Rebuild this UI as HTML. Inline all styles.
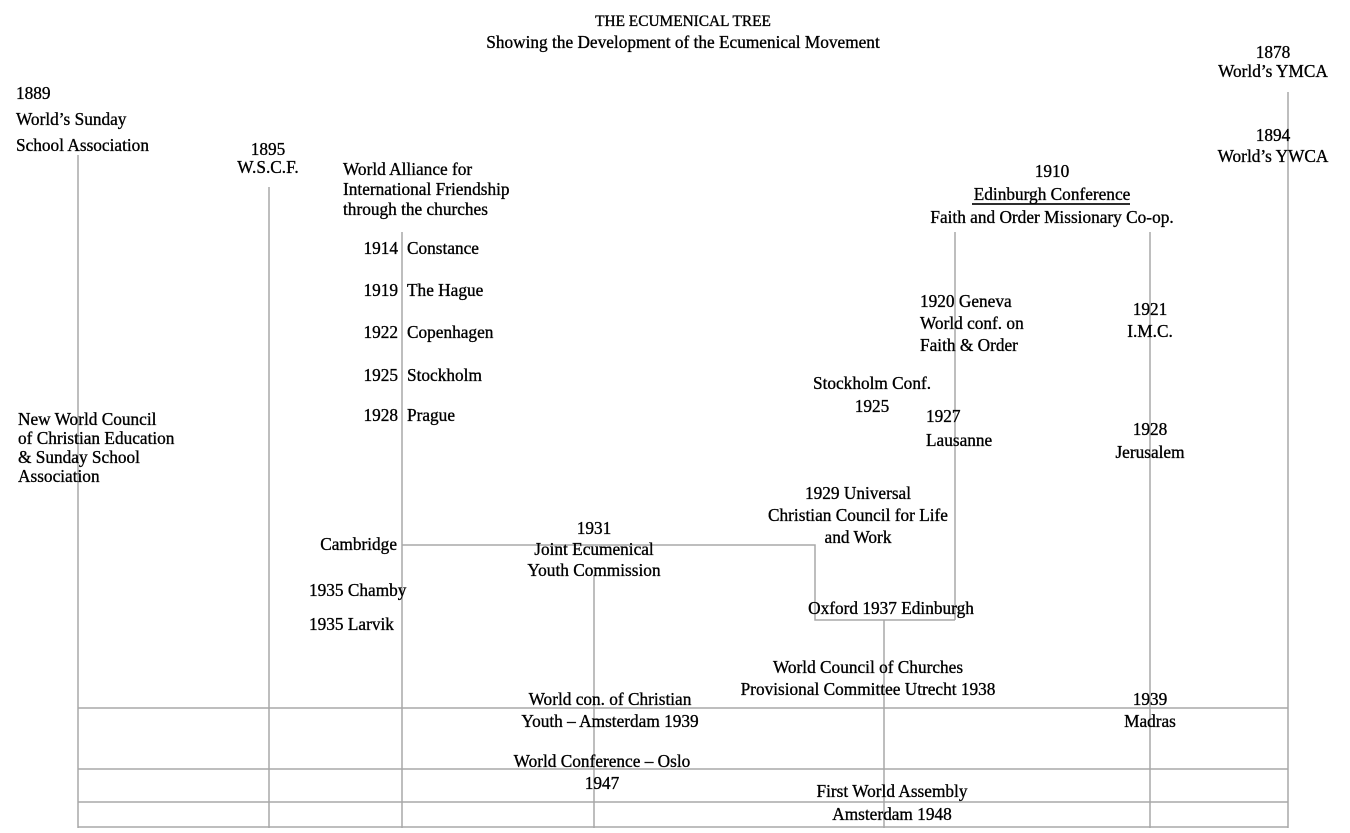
<!DOCTYPE html>
<html><head><meta charset="utf-8"><style>
html,body{margin:0;padding:0;background:#fff;}
#c{position:relative;width:1350px;height:833px;overflow:hidden;font-family:"Liberation Serif",serif;color:#000;}
.t{position:absolute;font-size:18px;line-height:20px;white-space:nowrap;transform:scaleX(0.96);transform-origin:left top;-webkit-text-stroke:0.35px #000;}
.c{transform:translateX(-50%) scaleX(0.96);transform-origin:center top;text-align:center;}
.r{transform:translateX(-100%) scaleX(0.96);transform-origin:right top;}
svg{position:absolute;left:0;top:0;}
</style></head><body><div id="c">
<svg width="1350" height="833">
<g stroke="#a8a8a8" stroke-width="1.5" fill="none">
<line x1="78" y1="155" x2="78" y2="828"/>
<line x1="269" y1="187" x2="269" y2="828"/>
<line x1="402" y1="232" x2="402" y2="828"/>
<line x1="594" y1="575" x2="594" y2="828"/>
<line x1="884" y1="620" x2="884" y2="828"/>
<line x1="955" y1="232" x2="955" y2="620"/>
<line x1="1150" y1="232" x2="1150" y2="828"/>
<line x1="1288" y1="92" x2="1288" y2="828"/>
<line x1="78" y1="708" x2="1288" y2="708"/>
<line x1="78" y1="769" x2="1288" y2="769"/>
<line x1="78" y1="802" x2="1288" y2="802"/>
<line x1="78" y1="827" x2="1288" y2="827"/>
<polyline points="402,545 815,545 815,620 955,620"/>
</g>
<line x1="972" y1="204" x2="1130" y2="204" stroke="#111" stroke-width="1.8"/>
</svg>
<div class="t c" style="left:683px;top:12px;font-size:16px">THE ECUMENICAL TREE</div>
<div class="t c" style="left:683px;top:32px">Showing the Development of the Ecumenical Movement</div>
<div class="t" style="left:16px;top:80px;line-height:26px">1889<br>World’s Sunday<br>School Association</div>
<div class="t c" style="left:268px;top:140px;line-height:18px">1895<br>W.S.C.F.</div>
<div class="t" style="left:343px;top:159px;line-height:20px">World Alliance for<br>International Friendship<br>through the churches</div>
<div class="t r" style="left:398px;top:238px">1914</div><div class="t" style="left:407px;top:238px">Constance</div>
<div class="t r" style="left:398px;top:280px">1919</div><div class="t" style="left:407px;top:280px">The Hague</div>
<div class="t r" style="left:398px;top:322px">1922</div><div class="t" style="left:407px;top:322px">Copenhagen</div>
<div class="t r" style="left:398px;top:365px">1925</div><div class="t" style="left:407px;top:365px">Stockholm</div>
<div class="t r" style="left:398px;top:405px">1928</div><div class="t" style="left:407px;top:405px">Prague</div>
<div class="t" style="left:18px;top:410px;line-height:19px">New World Council<br>of Christian Education<br>&amp; Sunday School<br>Association</div>
<div class="t r" style="left:397px;top:534px">Cambridge</div>
<div class="t c" style="left:594px;top:518px;line-height:21px">1931<br>Joint Ecumenical<br>Youth Commission</div>
<div class="t" style="left:309px;top:580px">1935 Chamby</div>
<div class="t" style="left:309px;top:614px">1935 Larvik</div>
<div class="t c" style="left:858px;top:482px;line-height:22px">1929 Universal<br>Christian Council for Life<br>and Work</div>
<div class="t c" style="left:891px;top:598px">Oxford 1937 Edinburgh</div>
<div class="t c" style="left:868px;top:656px;line-height:22px">World Council of Churches<br>Provisional Committee Utrecht 1938</div>
<div class="t c" style="left:610px;top:688px;line-height:22px">World con. of Christian<br>Youth – Amsterdam 1939</div>
<div class="t c" style="left:602px;top:750px;line-height:22px">World Conference – Oslo<br>1947</div>
<div class="t c" style="left:892px;top:780px;line-height:23px">First World Assembly<br>Amsterdam 1948</div>
<div class="t c" style="left:1150px;top:688px;line-height:22px">1939<br>Madras</div>
<div class="t c" style="left:1052px;top:160px;line-height:23px">1910<br>Edinburgh Conference<br>Faith and Order Missionary Co-op.</div>
<div class="t" style="left:920px;top:290px;line-height:22px">1920 Geneva<br>World conf. on<br>Faith &amp; Order</div>
<div class="t c" style="left:1150px;top:298px;line-height:22px">1921<br>I.M.C.</div>
<div class="t c" style="left:872px;top:372px;line-height:23px">Stockholm Conf.<br>1925</div>
<div class="t" style="left:926px;top:404px;line-height:24px">1927<br>Lausanne</div>
<div class="t c" style="left:1150px;top:418px;line-height:23px">1928<br>Jerusalem</div>
<div class="t c" style="left:1273px;top:43px;line-height:19px">1878<br>World’s YMCA</div>
<div class="t c" style="left:1273px;top:125px;line-height:21px">1894<br>World’s YWCA</div>
</div></body></html>
